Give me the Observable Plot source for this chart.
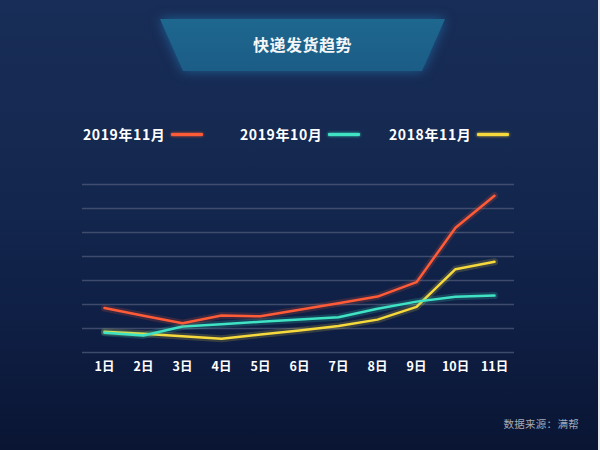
<!DOCTYPE html>
<html>
<head>
<meta charset="utf-8">
<script src="https://cdn.jsdelivr.net/npm/d3@7"></script>
<script src="https://cdn.jsdelivr.net/npm/@observablehq/plot@0.6"></script>
<style>
  html, body { margin: 0; padding: 0; }
  body {
    width: 600px; height: 450px; overflow: hidden; position: relative;
    background: linear-gradient(to bottom, #182d57 0%, #14284f 40%, #0f1f45 70%, #0a1533 100%);
    font-family: "Noto Sans CJK SC", "Noto Sans", sans-serif;
    box-sizing: border-box;
    border-right: 2px solid #e6e8ec;
  }
  #banner-wrap { position: absolute; left: 0; top: 0; width: 600px; height: 90px;
    filter: drop-shadow(0 0 6px rgba(40,140,200,0.55)); }
  #banner { position: absolute; left: 0; top: 0; width: 600px; height: 90px;
    background: linear-gradient(to bottom, #1f6b92, #1a5983);
    clip-path: polygon(160px 19px, 445px 19px, 422px 71px, 183px 71px); }
  #title { position: absolute; left: 160px; width: 285px; top: 33px; text-align: center;
    color: #f4f6f8; font-size: 16px; font-weight: bold; line-height: 22px; letter-spacing: 0.5px; }
  .leg { position: absolute; top: 124px; height: 20px; display: flex; align-items: center;
    color: #ffffff; font-size: 14px; font-weight: bold; white-space: nowrap; letter-spacing: 0.6px; }
  .leg span.sw { display: inline-block; width: 32px; height: 3px; margin-left: 6px; border-radius: 1px; }
  #chart { position: absolute; left: 0; top: 170px; }
  #caption { position: absolute; right: 19px; top: 416px; color: #a3a9b5; font-size: 10.5px; letter-spacing: 0.3px; }
</style>
</head>
<body>
<div id="banner-wrap"><div id="banner"></div></div>
<div id="title"></div>
<div id="legend"></div>
<div id="chart"></div>
<div id="caption"></div>
<script>
const title = "快递发货趋势";
const caption = "数据来源：满帮";
const days = ["1日","2日","3日","4日","5日","6日","7日","8日","9日","10日","11日"];
const seriesNames = ["2019年11月", "2019年10月", "2018年11月"];
const seriesColors = ["#ff5b36", "#3fe3c4", "#f6d93c"];
const nov2019 = [1.85, 1.53, 1.22, 1.54, 1.51, 1.78, 2.05, 2.33, 2.93, 5.2, 6.53];
const oct2019 = [0.82, 0.71, 1.08, 1.18, 1.28, 1.37, 1.47, 1.82, 2.12, 2.32, 2.37];
const nov2018 = [0.86, 0.78, 0.68, 0.57, 0.75, 0.92, 1.10, 1.37, 1.9, 3.47, 3.78];
const gridValues = [0, 1, 2, 3, 4, 5, 6, 7];
const legendLeft = [83, 240, 389];

document.getElementById("title").textContent = title;
document.getElementById("caption").textContent = caption;

const legend = document.getElementById("legend");
seriesNames.forEach((n, i) => {
  const d = document.createElement("div");
  d.className = "leg";
  d.style.left = legendLeft[i] + "px";
  d.textContent = n;
  const sw = document.createElement("span");
  sw.className = "sw";
  sw.style.background = seriesColors[i];
  sw.style.boxShadow = "0 0 3px " + seriesColors[i];
  d.appendChild(sw);
  legend.appendChild(d);
});

const allSeries = [nov2018, oct2019, nov2019];
const allColors = [seriesColors[2], seriesColors[1], seriesColors[0]];
const toRows = (vals) => vals.map((v, i) => ({day: days[i], value: v}));

const marks = [
  Plot.ruleY(gridValues, {stroke: "#4f5a78", strokeWidth: 1.5, strokeOpacity: 0.75})
];
allSeries.forEach((vals, i) => {
  const rows = toRows(vals);
  marks.push(Plot.line(rows, {x: "day", y: "value", stroke: allColors[i], strokeWidth: 7, strokeOpacity: 0.18}));
  marks.push(Plot.line(rows, {x: "day", y: "value", stroke: allColors[i], strokeWidth: 2.5}));
});

const plot = Plot.plot({
  width: 598,
  height: 210,
  marginTop: 14,
  marginBottom: 28,
  marginLeft: 82,
  marginRight: 84,
  style: {background: "transparent", color: "#ffffff", fontFamily: "'Noto Sans CJK SC', sans-serif"},
  x: {type: "point", domain: days, padding: 0, insetLeft: 18, insetRight: 17, label: null, tickSize: 0, tickPadding: 12},
  y: {domain: [0, 7], axis: null},
  marks: [
    Plot.axisX({tickSize: 0, tickPadding: 10, fontSize: 12.5, fontWeight: "bold", fill: "#ffffff", label: null}),
    ...marks
  ]
});
document.getElementById("chart").appendChild(plot);
</script>
</body>
</html>
